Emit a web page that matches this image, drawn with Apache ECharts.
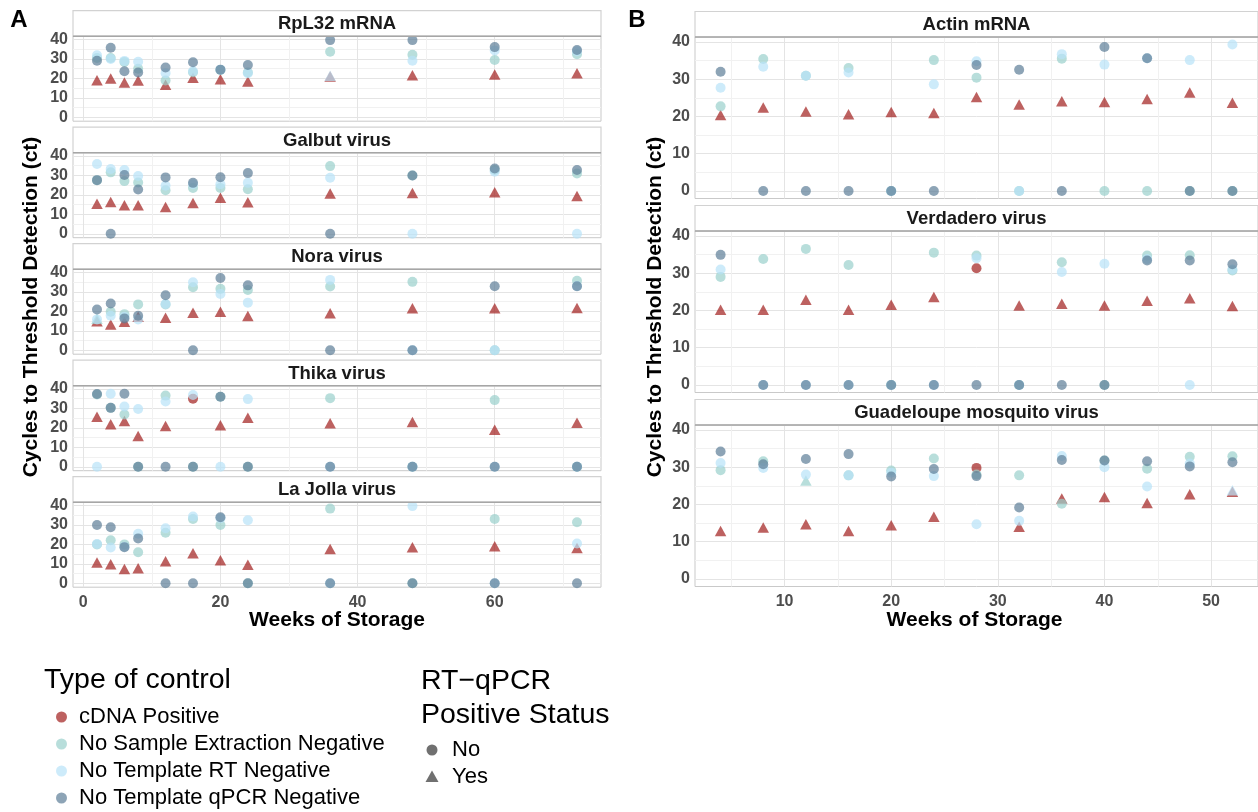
<!DOCTYPE html>
<html>
<head>
<meta charset="utf-8">
<script src="https://cdn.jsdelivr.net/npm/echarts@6/dist/echarts.min.js"></script>
<style>
  html, body { margin: 0; padding: 0; background: #ffffff; }
  #chart { width: 1258px; height: 812px; }
</style>
</head>
<body>
<div id="chart"></div>
<script>
// Storage weeks sampled in each experiment
const weeksA = [2, 4, 6, 8, 12, 16, 20, 24, 36, 48, 60, 72];
const weeksB = [4, 8, 12, 16, 20, 24, 28, 32, 36, 40, 44, 48, 52];

// Control types (series) and their colours
const controlTypes = ['cDNA Positive', 'No Sample Extraction Negative', 'No Template RT Negative', 'No Template qPCR Negative'];
const controlColors = ['#A11E1C', '#9AD0CC', '#B8E2F8', '#5C7D97'];
const statusLabels = ['No', 'Yes'];

// Ct values per week (order: cDNA, extraction, RT, qPCR). 0 = no amplification.
const rpl32Cdna = [19, 20, 17.9, 18.9, 16.7, 20.4, 19.6, 18.4, 21, 21.6, 22, 22.7];
const rpl32Nse  = [30.5, 30.5, 28.5, 25, 18.9, 23.2, 24.3, 23, 33.7, 32.2, 29.5, 32.4];
const rpl32Rt   = [31.9, 30, 29, 28.6, 22.7, 23.7, 24.5, 22.7, 21.4, 29.1, 34.4, 34];
const rpl32Qpcr = [29.1, 35.8, 23.7, 23, 25.6, 28.3, 24.5, 26.9, 39.7, 39.7, 36.1, 34.6];

const galbutCdna = [15.5, 16.4, 14.7, 14.7, 13.8, 15.9, 18.6, 16.2, 20.7, 21, 21.4, 19.5];
const galbutNse  = [27.6, 31.6, 27.1, 26.4, 22.4, 23.6, 23.6, 22.9, 34.8, 30, 32.8, 31];
const galbutRt   = [35.9, 33.3, 32.8, 29.7, 24.7, 25.5, 25.5, 26.2, 28.8, 0, 31.9, 0];
const galbutQpcr = [27.6, 0, 30.2, 22.8, 29, 26.2, 29.1, 31.2, 0, 30, 33.6, 32.8];

const noraCdna = [15, 13.3, 14.7, 17.2, 16.7, 19.3, 19.8, 17.6, 19, 21.6, 21.6, 21.7];
const noraNse  = [16.2, 19.8, 18.6, 23.6, 23.6, 32.4, 31.6, 31, 32.8, 35.2, 0, 35.7];
const noraRt   = [15.9, 17.8, 17.2, 15.9, 23.8, 35, 29, 24.5, 36.2, 0, 0, 33];
const noraQpcr = [21, 24.1, 16.4, 17.8, 28.3, 0, 37.2, 33.4, 0, 0, 32.9, 32.9];

const thikaCdna = [25.7, 21.9, 23.6, 15.9, 21, 35, 21.4, 25.2, 22.4, 23.1, 19, 22.6];
const thikaNse  = [37.2, 30.3, 26.9, 0, 36.6, 0, 36, 0, 35.3, 0, 34.3, 0];
const thikaRt   = [0, 37.6, 31, 29.7, 33.6, 36.9, 0, 34.8, 0, 0, 0, 0];
const thikaQpcr = [37.4, 30.3, 37.6, 0, 0, 0, 36, 0, 0, 0, 0, 0];

const laJollaCdna = [10.7, 9.8, 7.4, 7.8, 11.4, 15.5, 11.9, 9.5, 17.6, 18.6, 19, 18.1];
const laJollaNse  = [20, 22.1, 20, 16, 26, 33.1, 30, 0, 38.4, 0, 33.1, 31.4];
const laJollaRt   = [20.2, 18.4, 18.8, 25.5, 28.3, 34.3, 33.5, 32.4, 0, 39.7, 0, 20.5];
const laJollaQpcr = [30, 28.8, 18.6, 23.1, 0, 0, 34, 0, 0, 0, 0, 0];

const actinCdna = [20.4, 22.4, 21.3, 20.6, 21.2, 20.9, 25.2, 23.2, 24.1, 23.9, 24.7, 26.4, 23.7];
const actinNse  = [22.7, 35.4, 30.9, 33, 0, 35.1, 30.4, 0, 35.5, 0, 0, 0, 0];
const actinRt   = [27.7, 33.3, 30.9, 31.8, 0, 28.6, 34.8, 0, 36.7, 33.9, 35.6, 35.1, 39.3];
const actinQpcr = [32, 0, 0, 0, 0, 0, 33.8, 32.5, 0, 38.6, 35.6, 0, 0];

const verdaderoCdna = [20.2, 20.2, 22.9, 20.2, 21.5, 23.6, 31.3, 21.3, 21.8, 21.3, 22.6, 23.3, 21.2];
const verdaderoNse  = [29, 33.8, 36.5, 32.2, 0, 35.5, 34.7, 0, 32.9, 0, 34.7, 34.8, 30.7];
const verdaderoRt   = [31, 0, 0, 0, 0, 0, 34, 0, 30.3, 32.5, 33.8, 0, 31];
const verdaderoQpcr = [34.9, 0, 0, 0, 0, 0, 0, 0, 0, 0, 33.4, 33.4, 32.4];

const guadeloupeCdna = [12.9, 13.8, 14.7, 12.9, 14.4, 16.7, 29.8, 14, 21.6, 22, 20.4, 22.7, 23.4];
const guadeloupeNse  = [29.2, 31.6, 26.4, 27.8, 29.1, 32.3, 28, 27.8, 20.2, 31.8, 29.6, 32.8, 32.9];
const guadeloupeRt   = [31.1, 29.8, 28, 27.8, 28.5, 27.6, 14.7, 15.6, 33, 30, 24.8, 31, 23.8];
const guadeloupeQpcr = [34.2, 30.8, 32.2, 33.5, 27.5, 29.5, 27.6, 19.2, 31.9, 31.8, 31.6, 30.2, 31.3];

// Weeks whose RT-qPCR status differs from the default
// (cDNA positive controls default to "Yes", negatives to "No")
const rpl32Flips      = [[], [], [36], []];
const galbutFlips     = [[], [], [], []];
const noraFlips       = [[], [2], [], []];
const thikaFlips      = [[16], [], [], []];
const laJollaFlips    = [[], [], [], []];
const actinFlips      = [[], [], [], []];
const verdaderoFlips  = [[28], [], [], []];
const guadeloupeFlips = [[28], [12], [52], []];

const facetsA = [
  { title: 'RpL32 mRNA', values: [rpl32Cdna, rpl32Nse, rpl32Rt, rpl32Qpcr], flips: rpl32Flips },
  { title: 'Galbut virus', values: [galbutCdna, galbutNse, galbutRt, galbutQpcr], flips: galbutFlips },
  { title: 'Nora virus', values: [noraCdna, noraNse, noraRt, noraQpcr], flips: noraFlips },
  { title: 'Thika virus', values: [thikaCdna, thikaNse, thikaRt, thikaQpcr], flips: thikaFlips },
  { title: 'La Jolla virus', values: [laJollaCdna, laJollaNse, laJollaRt, laJollaQpcr], flips: laJollaFlips }
];
const facetsB = [
  { title: 'Actin mRNA', values: [actinCdna, actinNse, actinRt, actinQpcr], flips: actinFlips },
  { title: 'Verdadero virus', values: [verdaderoCdna, verdaderoNse, verdaderoRt, verdaderoQpcr], flips: verdaderoFlips },
  { title: 'Guadeloupe mosquito virus', values: [guadeloupeCdna, guadeloupeNse, guadeloupeRt, guadeloupeQpcr], flips: guadeloupeFlips }
];

// ---- layout ----
const FONT = '"Liberation Sans", Arial, Helvetica, sans-serif';
const POINT_ALPHA = 0.7;
const STRIP_H = 25.5;

const panelA = { left: 73, width: 528, top0: 10.7, step: 116.5, height: 85,
  xMin: -1.5, xMax: 75.5, xTicks: [0, 10, 20, 30, 40, 50, 60, 70], xLabels: [0, 20, 40, 60],
  yMin: -2, yMax: 41.7 };
const panelB = { left: 695, width: 563, top0: 11.5, step: 194, height: 161.5,
  xMin: 1.6, xMax: 54.4, xTicks: [5, 10, 15, 20, 25, 30, 35, 40, 45, 50], xLabels: [10, 20, 30, 40, 50],
  yMin: -2, yMax: 41.3 };
const yTicks = [0, 5, 10, 15, 20, 25, 30, 35, 40];
const yLabels = [0, 10, 20, 30, 40];

const grids = [], xAxes = [], yAxes = [], series = [], graphics = [];
const tickStyle = { color: '#4d4d4d', fontWeight: 'bold', fontSize: 16, fontFamily: FONT };
const gridLineColors = ['#e4e4e4', '#f1f1f1'];

function addFacet(facet, panel, idx, weeks, isLast) {
  const gi = grids.length;
  const stripTop = panel.top0 + idx * panel.step;
  const top = stripTop + STRIP_H;
  grids.push({ left: panel.left, top: top, width: panel.width, height: panel.height,
    show: true, borderColor: '#c9c9c9', borderWidth: 1, backgroundColor: '#ffffff', containLabel: false });

  xAxes.push({ type: 'value', gridIndex: gi, min: panel.xMin, max: panel.xMax,
    axisLine: { show: false },
    axisTick: { show: false, customValues: panel.xTicks },
    axisLabel: { show: isLast, customValues: panel.xLabels, margin: 7, ...tickStyle },
    splitLine: { show: true, lineStyle: { color: panel.xTicks[0] % 10 === 0 ? gridLineColors : gridLineColors.slice().reverse(), width: 1 } }
  });
  yAxes.push({ type: 'value', gridIndex: gi, min: panel.yMin, max: panel.yMax,
    axisLine: { show: false },
    axisTick: { show: false, customValues: yTicks },
    axisLabel: { show: true, customValues: yLabels, margin: 5, ...tickStyle },
    splitLine: { show: true, lineStyle: { color: gridLineColors, width: 1 } }
  });

  controlTypes.forEach((name, t) => {
    const data = [];
    facet.values[t].forEach((v, i) => {
      if (v === null || v === undefined) return;
      const flipped = facet.flips[t].includes(weeks[i]);
      const positive = (t === 0) !== flipped;
      data.push({ value: [weeks[i], v], symbol: positive ? 'triangle' : 'circle',
        symbolSize: positive ? [11.5, 10.5] : 10 });
    });
    series.push({ type: 'scatter', name: name, xAxisIndex: gi, yAxisIndex: gi, data: data,
      itemStyle: { color: controlColors[t], opacity: POINT_ALPHA }, silent: true, z: 2 + t });
  });

  // facet strip
  graphics.push({ type: 'rect', shape: { x: panel.left, y: stripTop, width: panel.width, height: STRIP_H },
    style: { fill: '#ffffff', stroke: '#d2d2d2', lineWidth: 1.2 }, z: 10 });
  graphics.push({ type: 'line', shape: { x1: panel.left, y1: stripTop + STRIP_H, x2: panel.left + panel.width, y2: stripTop + STRIP_H },
    style: { stroke: '#a6a6a6', lineWidth: 1.5 }, z: 11 });
  graphics.push({ type: 'text', x: panel.left + panel.width / 2, y: stripTop + STRIP_H / 2 + 0.5,
    style: { text: facet.title, fill: '#1a1a1a', font: 'bold 18.5px ' + FONT, textAlign: 'center', textVerticalAlign: 'middle' }, z: 12 });
}

facetsA.forEach((f, i) => addFacet(f, panelA, i, weeksA, i === facetsA.length - 1));
facetsB.forEach((f, i) => addFacet(f, panelB, i, weeksB, i === facetsB.length - 1));

// Panel letters and axis titles
const titleFont = 'bold 21px ' + FONT;
graphics.push(
  { type: 'text', x: 19, y: 20, style: { text: 'A', font: 'bold 24px ' + FONT, fill: '#000', textAlign: 'center', textVerticalAlign: 'middle' } },
  { type: 'text', x: 637, y: 20, style: { text: 'B', font: 'bold 24px ' + FONT, fill: '#000', textAlign: 'center', textVerticalAlign: 'middle' } },
  { type: 'text', x: 31, y: 307, rotation: Math.PI / 2,
    style: { text: 'Cycles to Threshold Detection (ct)', font: titleFont, fill: '#000', textAlign: 'center', textVerticalAlign: 'middle' } },
  { type: 'text', x: 655, y: 307, rotation: Math.PI / 2,
    style: { text: 'Cycles to Threshold Detection (ct)', font: titleFont, fill: '#000', textAlign: 'center', textVerticalAlign: 'middle' } },
  { type: 'text', x: panelA.left + panelA.width / 2, y: 620,
    style: { text: 'Weeks of Storage', font: titleFont, fill: '#000', textAlign: 'center', textVerticalAlign: 'middle' } },
  { type: 'text', x: panelB.left + panelB.width / 2 - 2, y: 620,
    style: { text: 'Weeks of Storage', font: titleFont, fill: '#000', textAlign: 'center', textVerticalAlign: 'middle' } }
);

// Legends
const legendTitleFont = '28.5px ' + FONT;
const legendItemFont = '22px ' + FONT;
graphics.push({ type: 'text', x: 44, y: 680,
  style: { text: 'Type of control', font: legendTitleFont, fill: '#000', textVerticalAlign: 'middle' } });
const controlRows = [717, 744, 771, 798];
controlTypes.forEach((name, t) => {
  graphics.push({ type: 'circle', shape: { cx: 61.5, cy: controlRows[t], r: 5.5 },
    style: { fill: controlColors[t], opacity: POINT_ALPHA } });
  graphics.push({ type: 'text', x: 79, y: controlRows[t],
    style: { text: name, font: legendItemFont, fill: '#000', textVerticalAlign: 'middle' } });
});
graphics.push(
  { type: 'text', x: 421, y: 681, style: { text: 'RT\u2212qPCR', font: legendTitleFont, fill: '#000', textVerticalAlign: 'middle' } },
  { type: 'text', x: 421, y: 715, style: { text: 'Positive Status', font: legendTitleFont, fill: '#000', textVerticalAlign: 'middle' } },
  { type: 'circle', shape: { cx: 432, cy: 750, r: 5.5 }, style: { fill: '#333333', opacity: POINT_ALPHA } },
  { type: 'polygon', shape: { points: [[432, 770.5], [438.5, 782], [425.5, 782]] }, style: { fill: '#333333', opacity: POINT_ALPHA } },
  { type: 'text', x: 452, y: 750, style: { text: statusLabels[0], font: legendItemFont, fill: '#000', textVerticalAlign: 'middle' } },
  { type: 'text', x: 452, y: 777, style: { text: statusLabels[1], font: legendItemFont, fill: '#000', textVerticalAlign: 'middle' } }
);

const chart = echarts.init(document.getElementById('chart'), null, { renderer: 'canvas' });
chart.setOption({
  animation: false,
  backgroundColor: '#ffffff',
  textStyle: { fontFamily: FONT },
  grid: grids,
  xAxis: xAxes,
  yAxis: yAxes,
  series: series,
  graphic: { elements: graphics }
});
</script>
</body>
</html>
